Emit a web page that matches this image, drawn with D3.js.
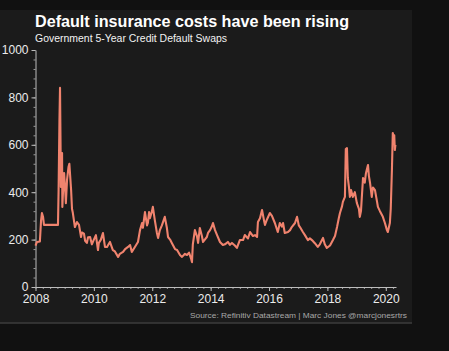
<!DOCTYPE html>
<html>
<head>
<meta charset="utf-8">
<script src="https://cdn.jsdelivr.net/npm/d3@7"></script>
<style>
    html, body { margin: 0; padding: 0; background: #111111; }
    svg { display: block; font-family: "Liberation Sans", Arial, sans-serif; }
</style>
</head>
<body>
<div id="chart"></div>
<script>
// dates as decimal years, values in basis points
var dates = [2008.00, 2008.05, 2008.15, 2008.19, 2008.22, 2008.26, 2008.29, 2008.77, 2008.79, 2008.82,
    2008.84, 2008.86, 2008.87, 2008.91, 2008.92, 2008.96, 2008.98, 2009.01, 2009.04, 2009.08,
    2009.13, 2009.16, 2009.22, 2009.25, 2009.28, 2009.35, 2009.42, 2009.49, 2009.56, 2009.59,
    2009.66, 2009.70, 2009.76, 2009.80, 2009.87, 2009.93, 2010.00, 2010.07, 2010.14, 2010.17,
    2010.24, 2010.31, 2010.38, 2010.45, 2010.55, 2010.65, 2010.72, 2010.83, 2010.89, 2011.00,
    2011.07, 2011.17, 2011.24, 2011.30, 2011.41, 2011.51, 2011.58, 2011.65, 2011.68, 2011.75,
    2011.82, 2011.85, 2011.89, 2011.92, 2011.99, 2012.02, 2012.09, 2012.16, 2012.20, 2012.26,
    2012.33, 2012.43, 2012.50, 2012.54, 2012.61, 2012.67, 2012.78, 2012.85, 2012.95, 2013.02,
    2013.12, 2013.19, 2013.26, 2013.33, 2013.36, 2013.39, 2013.46, 2013.53, 2013.57, 2013.63,
    2013.70, 2013.74, 2013.80, 2013.87, 2013.91, 2013.98, 2014.04, 2014.08, 2014.15, 2014.22,
    2014.32, 2014.42, 2014.49, 2014.59, 2014.66, 2014.73, 2014.83, 2014.90, 2015.00, 2015.11,
    2015.17, 2015.28, 2015.35, 2015.45, 2015.52, 2015.59, 2015.62, 2015.69, 2015.76, 2015.83,
    2015.86, 2015.93, 2016.03, 2016.10, 2016.20, 2016.30, 2016.37, 2016.44, 2016.48, 2016.54,
    2016.65, 2016.72, 2016.78, 2016.89, 2016.96, 2017.02, 2017.06, 2017.16, 2017.23, 2017.33,
    2017.40, 2017.47, 2017.57, 2017.67, 2017.74, 2017.85, 2017.91, 2017.98, 2018.09, 2018.19,
    2018.26, 2018.33, 2018.39, 2018.43, 2018.50, 2018.53, 2018.60, 2018.63, 2018.67, 2018.70,
    2018.74, 2018.77, 2018.81, 2018.87, 2018.94, 2019.01, 2019.08, 2019.11, 2019.15, 2019.22,
    2019.28, 2019.32, 2019.39, 2019.42, 2019.46, 2019.52, 2019.56, 2019.63, 2019.70, 2019.73,
    2019.80, 2019.90, 2019.97, 2020.04, 2020.07, 2020.14, 2020.17, 2020.21, 2020.24, 2020.28,
    2020.29, 2020.31, 2020.33];

var values = [175, 190, 192, 280, 312, 295, 262, 262, 400, 700,
    840, 578, 422, 565, 338, 450, 481, 422, 354, 451,
    506, 520, 409, 330, 312, 253, 274, 262, 211, 230,
    225, 195, 186, 210, 211, 180, 200, 219, 156, 186,
    200, 228, 169, 169, 190, 156, 150, 127, 140, 148,
    160, 169, 177, 148, 170, 190, 240, 270, 250, 316,
    260, 270, 316, 290, 320, 338, 280, 228, 207, 240,
    260, 296, 250, 211, 200, 186, 160, 156, 135, 127,
    140, 135, 145, 120, 105, 180, 240, 215, 186, 249,
    215, 190, 200, 211, 228, 240, 255, 270, 240, 219,
    190, 177, 180, 190, 178, 186, 175, 165, 198, 198,
    219, 205, 232, 215, 219, 211, 274, 290, 325, 280,
    262, 285, 312, 300, 270, 232, 270, 255, 270, 228,
    232, 240, 253, 270, 296, 260, 253, 232, 219, 198,
    205, 198, 185, 169, 180, 207, 180, 165, 175, 198,
    215, 253, 290, 312, 340, 359, 380, 582, 586, 460,
    420, 380, 409, 380, 400, 354, 330, 296, 320, 460,
    440, 480, 515, 470, 440, 380, 420, 409, 360, 338,
    320, 296, 270, 240, 232, 270, 330, 494, 650, 620,
    640, 578, 600];

var yTicks = [0, 200, 400, 600, 800, 1000];
var xTicks = [2008, 2010, 2012, 2014, 2016, 2018, 2020];

var title = "Default insurance costs have been rising";
var subtitle = "Government 5-Year Credit Default Swaps";
var source = "Source: Refinitiv Datastream | Marc Jones @marcjonesrtrs";

var W = 449, H = 351;
var margin = { top: 50, right: 53, bottom: 64, left: 35.5 };
var width = W - margin.left - margin.right;
var height = H - margin.top - margin.bottom;

var data = dates.map(function(d, i){ return { t: d, v: values[i] }; });

var svg = d3.select("#chart").append("svg")
    .attr("width", W)
    .attr("height", H);

// dark panel behind the chart
svg.append("rect")
    .attr("x", 0).attr("y", 10)
    .attr("width", 412).attr("height", 313)
    .attr("fill", "#1b1b1b");
svg.append("line")
    .attr("x1", 0).attr("x2", 412)
    .attr("y1", 323).attr("y2", 323)
    .attr("stroke", "#3c3c3c")
    .attr("stroke-width", 1.5);

svg.append("text")
    .attr("x", 35).attr("y", 27)
    .attr("fill", "#ffffff")
    .attr("font-size", 16)
    .attr("font-weight", "bold")
    .attr("textLength", 314)
    .attr("lengthAdjust", "spacingAndGlyphs")
    .text(title);

svg.append("text")
    .attr("x", 35).attr("y", 42)
    .attr("fill", "#f2f2f2")
    .attr("font-size", 10)
    .attr("textLength", 192)
    .attr("lengthAdjust", "spacingAndGlyphs")
    .text(subtitle);

svg.append("text")
    .attr("x", 407).attr("y", 318)
    .attr("text-anchor", "end")
    .attr("fill", "#a8a8a8")
    .attr("font-size", 8)
    .attr("textLength", 217)
    .attr("lengthAdjust", "spacingAndGlyphs")
    .text(source);

var g = svg.append("g")
    .attr("transform", "translate(" + margin.left + "," + margin.top + ")");

var x = d3.scaleLinear().domain([2008, 2020.35]).range([0, width]);
var y = d3.scaleLinear().domain([0, 1000]).range([height, 0]);

// minor ticks
var yMinor = d3.range(0, 1001, 40);
var xMinor = d3.range(2008, 2020.3, 0.25);

g.append("g")
    .attr("class", "y-minor")
    .call(d3.axisLeft(y).tickValues(yMinor).tickSize(2).tickFormat(""))
    .call(function(a){ a.select(".domain").remove(); })
    .selectAll("line").attr("stroke", "#9a9a9a");

g.append("g")
    .attr("class", "x-minor")
    .attr("transform", "translate(0," + height + ")")
    .call(d3.axisBottom(x).tickValues(xMinor).tickSize(2).tickFormat(""))
    .call(function(a){ a.select(".domain").remove(); })
    .selectAll("line").attr("stroke", "#9a9a9a");

var yAxis = g.append("g")
    .attr("class", "y-axis")
    .call(d3.axisLeft(y).tickValues(yTicks).tickFormat(d3.format("d")).tickSize(4).tickSizeOuter(0).tickPadding(3));

var xAxis = g.append("g")
    .attr("class", "x-axis")
    .attr("transform", "translate(0," + height + ")")
    .call(d3.axisBottom(x).tickValues(xTicks).tickFormat(d3.format("d")).tickSize(4).tickSizeOuter(0).tickPadding(3));

[yAxis, xAxis].forEach(function(a){
    a.select(".domain").attr("stroke", "#bdbdbd");
    a.selectAll(".tick line").attr("stroke", "#bdbdbd");
    a.selectAll(".tick text")
        .attr("fill", "#ececec")
        .attr("font-size", 12)
        .attr("font-family", "Liberation Sans, Arial, sans-serif");
});

var line = d3.line()
    .x(function(d){ return x(d.t); })
    .y(function(d){ return y(d.v); });

g.append("path")
    .datum(data)
    .attr("fill", "none")
    .attr("stroke", "#f0836e")
    .attr("stroke-width", 2.1)
    .attr("stroke-linejoin", "round")
    .attr("d", line);
</script>
</body>
</html>
